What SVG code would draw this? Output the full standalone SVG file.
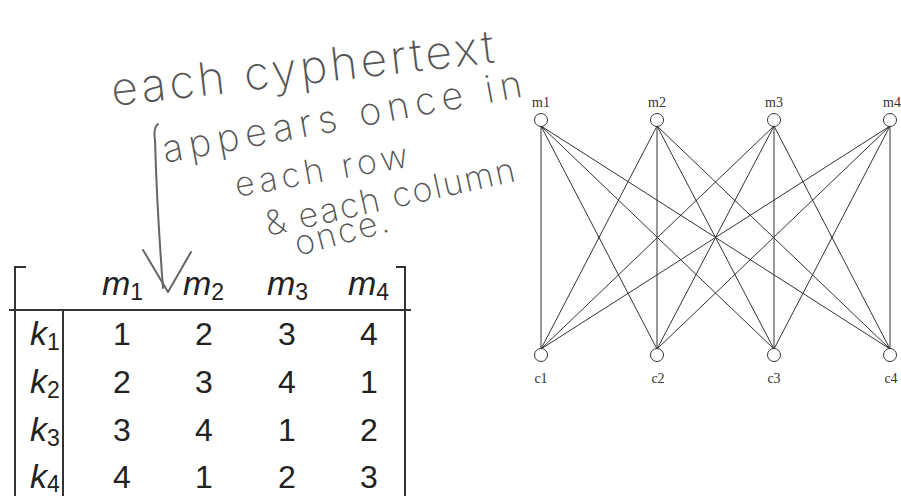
<svg xmlns="http://www.w3.org/2000/svg" width="901" height="496" viewBox="0 0 901 496">
<style>
.hw{font-family:Inter,"Open Sans","DejaVu Sans",sans-serif;font-weight:200;fill:#555;}
.rule{stroke:#333;stroke-width:2;fill:none;}
.tx{font-family:"Liberation Sans","DejaVu Sans",sans-serif;font-size:32px;fill:#222;}
.it{font-style:italic;font-size:34px;}
.sub{font-size:23px;font-style:normal;}
.node circle{fill:#fff;stroke:#333;stroke-width:1;}
.node text{font-family:"Liberation Serif","DejaVu Serif",serif;font-size:14px;fill:#333;text-anchor:middle;}
.edges line{stroke:#333;stroke-width:1;}
.ink{stroke:#666;stroke-width:2;fill:none;stroke-linecap:round;stroke-linejoin:round;}
</style>
<rect width="901" height="496" fill="#fff"/>
<g id="annotation">
<text class="hw" font-size="46" transform="translate(113,106) rotate(-6.5)" textLength="385" lengthAdjust="spacing">each cyphertext</text>
<text class="hw" font-size="38" transform="translate(165,163) rotate(-10.5)" textLength="365" lengthAdjust="spacing">appears once in</text>
<text class="hw" font-size="34" transform="translate(237,197) rotate(-10)" textLength="175" lengthAdjust="spacing">each row</text>
<text class="hw" font-size="34" transform="translate(268,236) rotate(-12.5)" textLength="255" lengthAdjust="spacing">&amp; each column</text>
<text class="hw" font-size="34" transform="translate(298,256) rotate(-15)" textLength="96" lengthAdjust="spacing">once.</text>
<path class="ink" d="M158,124 Q153,128 155,140 Q157,210 163,288"/>
<path class="ink" d="M143,250 L168,292 L191,252"/>
</g>
<g id="table">
<path class="rule" d="M26,267 H15 V496"/>
<path class="rule" d="M396,267 H405 V496"/>
<path class="rule" d="M9,310 H411"/>
<path class="rule" d="M63,310 V496"/>
<text class="tx it" x="102" y="295">m<tspan class="sub" dy="5">1</tspan></text>
<text class="tx it" x="183" y="295">m<tspan class="sub" dy="5">2</tspan></text>
<text class="tx it" x="267" y="295">m<tspan class="sub" dy="5">3</tspan></text>
<text class="tx it" x="348" y="295">m<tspan class="sub" dy="5">4</tspan></text>
<text class="tx it" x="30" y="345">k<tspan class="sub" dy="5">1</tspan></text>
<text class="tx it" x="30" y="393">k<tspan class="sub" dy="5">2</tspan></text>
<text class="tx it" x="30" y="441">k<tspan class="sub" dy="5">3</tspan></text>
<text class="tx it" x="30" y="488">k<tspan class="sub" dy="4">4</tspan></text>
<g text-anchor="middle" class="tx">
<text x="122" y="345">1</text><text x="204" y="345">2</text><text x="287" y="345">3</text><text x="369" y="345">4</text>
<text x="122" y="393">2</text><text x="204" y="393">3</text><text x="287" y="393">4</text><text x="369" y="393">1</text>
<text x="122" y="441">3</text><text x="204" y="441">4</text><text x="287" y="441">1</text><text x="369" y="441">2</text>
<text x="122" y="488">4</text><text x="204" y="488">1</text><text x="287" y="488">2</text><text x="369" y="488">3</text>
</g>
</g>
<g id="connectors" class="edges">
<line x1="541" y1="126" x2="541" y2="349"/><line x1="541" y1="126" x2="657" y2="349"/><line x1="541" y1="126" x2="774" y2="349"/><line x1="541" y1="126" x2="890" y2="349"/>
<line x1="657" y1="126" x2="541" y2="349"/><line x1="657" y1="126" x2="657" y2="349"/><line x1="657" y1="126" x2="774" y2="349"/><line x1="657" y1="126" x2="890" y2="349"/>
<line x1="774" y1="126" x2="541" y2="349"/><line x1="774" y1="126" x2="657" y2="349"/><line x1="774" y1="126" x2="774" y2="349"/><line x1="774" y1="126" x2="890" y2="349"/>
<line x1="890" y1="126" x2="541" y2="349"/><line x1="890" y1="126" x2="657" y2="349"/><line x1="890" y1="126" x2="774" y2="349"/><line x1="890" y1="126" x2="890" y2="349"/>
</g>
<g id="m1" class="node"><circle cx="541" cy="120" r="6.5"/><text x="541" y="107">m1</text></g>
<g id="m2" class="node"><circle cx="657" cy="120" r="6.5"/><text x="657" y="107">m2</text></g>
<g id="m3" class="node"><circle cx="774" cy="120" r="6.5"/><text x="774" y="107">m3</text></g>
<g id="m4" class="node"><circle cx="890" cy="120" r="6.5"/><text x="892" y="107">m4</text></g>
<g id="c1" class="node"><circle cx="541" cy="355" r="6.5"/><text x="541" y="383">c1</text></g>
<g id="c2" class="node"><circle cx="657" cy="355" r="6.5"/><text x="658" y="383">c2</text></g>
<g id="c3" class="node"><circle cx="774" cy="355" r="6.5"/><text x="774" y="383">c3</text></g>
<g id="c4" class="node"><circle cx="890" cy="355" r="6.5"/><text x="891" y="383">c4</text></g>
</svg>
